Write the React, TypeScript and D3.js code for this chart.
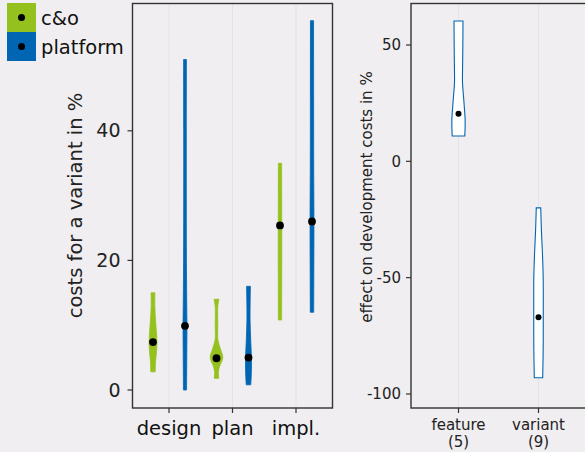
import React from "react";
import * as d3 from "d3";

// left panel: cost share per phase, split by role
const phases = ["design", "plan", "impl."];
const roles = ["c&o", "platform"];
const roleColors: Record<string, string> = { "c&o": "#95c11f", platform: "#0066b3" };

// violin outlines: [value in %, relative density]
const designCo: [number, number][] = [[15, 0.3], [13, 0.28], [11, 0.38], [9, 0.52], [7.4, 0.6], [6, 0.55], [4.5, 0.4], [2.8, 0.34]];
const designPf: [number, number][] = [[51, 0.22], [40, 0.2], [30, 0.2], [20, 0.22], [14, 0.26], [10, 0.3], [6, 0.28], [3, 0.26], [0, 0.24]];
const planCo: [number, number][] = [[14, 0.38], [12.9, 0.2], [10, 0.2], [7.7, 0.22], [6.2, 0.65], [5, 0.97], [3.6, 0.46], [2.8, 0.3], [1.8, 0.35]];
const planPf: [number, number][] = [[16, 0.3], [13.9, 0.26], [10.8, 0.24], [7.7, 0.34], [4.6, 0.46], [2.3, 0.43], [0.8, 0.35]];
const implCo: [number, number][] = [[35, 0.25], [30, 0.26], [25, 0.27], [20, 0.27], [15, 0.26], [10.8, 0.25]];
const implPf: [number, number][] = [[57, 0.24], [45, 0.25], [35, 0.26], [26, 0.3], [18, 0.28], [12, 0.26]];
const medians = [7.4, 9.9, 4.9, 5.0, 25.4, 26.0];
const leftTicks = [0, 20, 40];

// right panel: effect on development costs
const effectCats = ["feature", "variant"];
const effectCounts = ["(5)", "(9)"];
const featureViolin: [number, number][] = [[60.3, 0.64], [50, 0.62], [40, 0.58], [34, 0.57], [25, 0.79], [17.6, 0.95], [10.9, 0.9]];
const variantViolin: [number, number][] = [[-20, 0.32], [-30, 0.42], [-40, 0.57], [-50, 0.67], [-67, 0.68], [-80, 0.67], [-93, 0.6]];
const effectMedians = [20.5, -67];
const rightTicks = [50, 0, -50, -100];

const FONT = "DejaVu Sans";
const BG = "#f0eef0";
const GRID = "#e4e2e4";
const AXIS = "#333";

export default function App() {
  // left panel scales
  const xL = d3.scalePoint<string>().domain(phases).range([169, 296]);
  const dodge = d3.scalePoint<string>().domain(roles).range([-16, 16]);
  const yL = d3.scaleLinear().domain([0, 40]).range([390, 130.8]);
  const wL = d3.scaleLinear().domain([0, 1]).range([0, 6.5]);

  // right panel scales
  const xR = d3.scalePoint<string>().domain(effectCats).range([458.5, 538.5]);
  const yR = d3.scaleLinear().domain([-100, 50]).range([394, 45]);
  const wR = d3.scaleLinear().domain([0, 1]).range([0, 7]);

  const leftViolins = [
    { phase: "design", role: "c&o", prof: designCo },
    { phase: "design", role: "platform", prof: designPf },
    { phase: "plan", role: "c&o", prof: planCo },
    { phase: "plan", role: "platform", prof: planPf },
    { phase: "impl.", role: "c&o", prof: implCo },
    { phase: "impl.", role: "platform", prof: implPf },
  ];

  const violinPath = (cx: number, y: d3.ScaleLinear<number, number>, w: d3.ScaleLinear<number, number>, prof: [number, number][]) =>
    d3
      .area<[number, number]>()
      .y((d) => y(d[0]))
      .x0((d) => cx - w(d[1]))
      .x1((d) => cx + w(d[1]))
      .curve(d3.curveCatmullRom)(prof) || "";

  const lPanel = { x0: 132.5, x1: 332.5, y0: 3.5, y1: 408 };
  const rPanel = { x0: 411, x1: 587, y0: 3.5, y1: 408 };

  return (
    <svg width={585} height={452} style={{ position: "absolute", left: 0, top: 0 }} fontFamily={FONT}>
      <rect x={0} y={0} width={585} height={452} fill={BG} />

      {/* legend */}
      {roles.map((r, i) => (
        <g key={r}>
          <rect x={7} y={3 + i * 29} width={29} height={29} fill={roleColors[r]} />
          <circle cx={21.5} cy={17.5 + i * 29} r={3.5} fill="#000" />
          <text x={41} y={24.5 + i * 29} fontSize={19.5} fill="#111">{r}</text>
        </g>
      ))}

      {/* left panel */}
      {phases.map((p) => (
        <line key={p} x1={xL(p)} x2={xL(p)} y1={lPanel.y0} y2={lPanel.y1} stroke={GRID} strokeWidth={1} />
      ))}
      {leftViolins.map((v, i) => {
        const cx = (xL(v.phase) as number) + (dodge(v.role) as number);
        return (
          <g key={i}>
            <path d={violinPath(cx, yL, wL, v.prof)} fill={roleColors[v.role]} stroke={roleColors[v.role]} strokeWidth={0.8} />
            <circle cx={cx} cy={yL(medians[i])} r={3.9} fill="#000" />
          </g>
        );
      })}
      <rect x={lPanel.x0} y={lPanel.y0} width={lPanel.x1 - lPanel.x0} height={lPanel.y1 - lPanel.y0} fill="none" stroke={AXIS} strokeWidth={1.4} />
      {leftTicks.map((t) => (
        <g key={t}>
          <line x1={lPanel.x0 - 5} x2={lPanel.x0} y1={yL(t)} y2={yL(t)} stroke={AXIS} strokeWidth={1.2} />
          <text x={lPanel.x0 - 12} y={yL(t)} dy="0.35em" textAnchor="end" fontSize={19} fill="#222">{t}</text>
        </g>
      ))}
      {phases.map((p) => (
        <g key={p}>
          <line x1={xL(p)} x2={xL(p)} y1={lPanel.y1} y2={lPanel.y1 + 5} stroke={AXIS} strokeWidth={1.2} />
          <text x={xL(p)} y={435} textAnchor="middle" fontSize={19.5} fill="#111">{p}</text>
        </g>
      ))}
      <text transform={`translate(82,205.5) rotate(-90)`} textAnchor="middle" fontSize={19.5} fill="#222">costs for a variant in %</text>

      {/* right panel */}
      {effectCats.map((c) => (
        <line key={c} x1={xR(c)} x2={xR(c)} y1={rPanel.y0} y2={rPanel.y1} stroke={GRID} strokeWidth={1} />
      ))}
      {[featureViolin, variantViolin].map((prof, i) => {
        const cx = xR(effectCats[i]) as number;
        return (
          <g key={i}>
            <path d={violinPath(cx, yR, wR, prof)} fill="#fff" stroke="#0066b3" strokeWidth={1.1} />
            <circle cx={cx} cy={yR(effectMedians[i])} r={3} fill="#000" />
          </g>
        );
      })}
      <rect x={rPanel.x0} y={rPanel.y0} width={rPanel.x1 - rPanel.x0} height={rPanel.y1 - rPanel.y0} fill="none" stroke={AXIS} strokeWidth={1.4} />
      {rightTicks.map((t) => (
        <g key={t}>
          <line x1={rPanel.x0 - 5} x2={rPanel.x0} y1={yR(t)} y2={yR(t)} stroke={AXIS} strokeWidth={1.2} />
          <text x={rPanel.x0 - 10} y={yR(t)} dy="0.35em" textAnchor="end" fontSize={15} fill="#222">{t}</text>
        </g>
      ))}
      {effectCats.map((c, i) => (
        <g key={c}>
          <line x1={xR(c)} x2={xR(c)} y1={rPanel.y1} y2={rPanel.y1 + 5} stroke={AXIS} strokeWidth={1.2} />
          <text x={xR(c)} y={430} textAnchor="middle" fontSize={15} fill="#222">{c}</text>
          <text x={xR(c)} y={447} textAnchor="middle" fontSize={15} fill="#222">{effectCounts[i]}</text>
        </g>
      ))}
      <text transform={`translate(372,197) rotate(-90)`} textAnchor="middle" fontSize={15} fill="#222">effect on development costs in %</text>
    </svg>
  );
}
